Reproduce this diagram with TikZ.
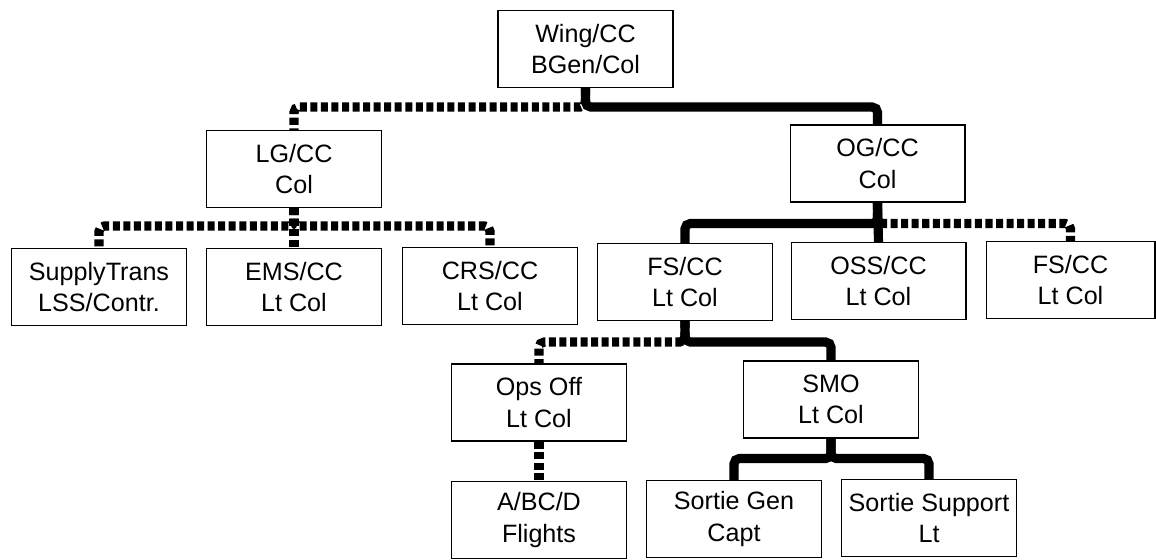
\documentclass[tikz,border=0pt]{standalone}
\usepackage{fontspec}
\setmainfont{Liberation Sans}
\usetikzlibrary{positioning}

\begin{document}
\begin{tikzpicture}[x=0.02cm,y=-0.02cm,
  orgbox/.style={draw,line width=0.6pt,minimum width=3.5cm,minimum height=1.54cm,inner sep=1pt,align=center,font=\fontsize{14.3}{18}\selectfont},
  solidlink/.style={line width=5.2pt,rounded corners=3pt},
  dashlink/.style={line width=5.2pt,dash pattern=on 4pt off 2pt,rounded corners=3pt}]
\useasboundingbox (0,0) rectangle (1156,559);
\node[orgbox] (wing) at (585.5,49) {Wing/CC\\BGen/Col};
\node[orgbox] (lg) at (294,169) {LG/CC\\Col};
\node[orgbox] (og) at (877.5,163.5) {OG/CC\\Col};
\node[orgbox] (supply) at (99,287) {SupplyTrans\\LSS/Contr.};
\node[orgbox] (ems) at (294,287) {EMS/CC\\Lt Col};
\node[orgbox] (crs) at (490,286) {CRS/CC\\Lt Col};
\node[orgbox] (fsA) at (685,282) {FS/CC\\Lt Col};
\node[orgbox] (oss) at (878.5,281) {OSS/CC\\Lt Col};
\node[orgbox,minimum width=3.38cm] (fsB) at (1070.5,280) {FS/CC\\Lt Col};
\node[orgbox] (ops) at (539,402.5) {Ops Off\\Lt Col};
\node[orgbox] (smo) at (831,399.5) {SMO\\Lt Col};
\node[orgbox] (flights) at (539,520) {A/BC/D\\Flights};
\node[orgbox] (sgen) at (734,519) {Sortie Gen\\Capt};
\node[orgbox] (ssup) at (929,518) {Sortie Support\\Lt};
% wing level
\draw[solidlink] (wing.south) -- ++(0,19) -| (og.north);
\draw[dashlink] (wing.south) -- ++(0,19) -| (lg.north);
% logistics group
\draw[dashlink] (lg.south) -- ++(0,18) -| (supply.north);
\draw[dashlink] (lg.south) -- ++(0,18) -| (crs.north);
\draw[dashlink] (lg.south) -- (ems.north);
% operations group
\draw[solidlink] (og.south) -- ++(0,21) -| (fsA.north);
\draw[solidlink] (og.south) -- (oss.north);
\draw[dashlink] (og.south) -- ++(0,21) -| (fsB.north);
% squadron
\draw[solidlink] (fsA.south) -- ++(0,21) -| (smo.north);
\draw[dashlink] (fsA.south) -- ++(0,21) -| (ops.north);
\draw[dashlink] (ops.south) -- (flights.north);
\draw[solidlink] (smo.south) -- ++(0,20) -| (sgen.north);
\draw[solidlink] (smo.south) -- ++(0,20) -| (ssup.north);
\end{tikzpicture}
\end{document}
